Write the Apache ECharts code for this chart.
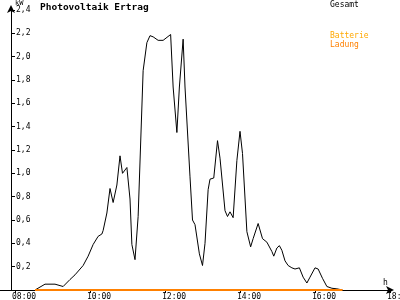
<!DOCTYPE html>
<html>
<head>
<meta charset="utf-8">
<script src="https://cdn.jsdelivr.net/npm/echarts@6/dist/echarts.min.js"></script>
<style>html,body{margin:0;padding:0;background:#fff}#c{width:400px;height:300px}</style>
</head>
<body>
<div id="c"></div>
<script>
const gesamtTimes = ['08:32','08:48','09:04','09:17','09:28','09:36','09:49','09:57','10:05','10:13','10:19','10:21','10:27','10:32','10:37','10:43','10:48','10:52','10:59','11:04','11:07','11:12','11:17','11:25','11:31','11:36','11:41','11:49','11:57','12:09','12:13','12:19','12:23','12:29','12:32','12:40','12:44','12:48','12:55','13:00','13:04','13:09','13:12','13:18','13:24','13:28','13:36','13:40','13:44','13:49','13:55','14:00','14:04','14:11','14:17','14:21','14:29','14:36','14:43','14:51','14:54','14:59','15:03','15:07','15:12','15:17','15:23','15:28','15:35','15:41','15:47','15:52','16:00','16:05','16:12','16:19','16:27','16:35','16:44'];
const gesamtValues = [0,0.05,0.05,0.03,0.09,0.13,0.21,0.29,0.39,0.46,0.48,0.51,0.66,0.87,0.75,0.90,1.15,1.00,1.05,0.78,0.39,0.26,0.63,1.88,2.12,2.18,2.17,2.14,2.14,2.19,1.74,1.35,1.74,2.15,1.74,0.97,0.60,0.56,0.31,0.21,0.40,0.86,0.95,0.96,1.28,1.13,0.68,0.63,0.67,0.62,1.11,1.36,1.17,0.50,0.37,0.44,0.57,0.44,0.41,0.33,0.29,0.36,0.38,0.34,0.25,0.21,0.19,0.18,0.19,0.11,0.06,0.11,0.19,0.18,0.10,0.03,0.015,0.01,0];
const ladungTimes = ['08:32','16:44'];
const ladungValues = [0,0];
const xTickHours = [8,10,12,14,16,18];

function toHours(s){const p=s.split(':');return +p[0]+(+p[1])/60;}
function pad(n){return (n<10?'0':'')+n;}
const mono = 'DejaVu Sans Mono';

const chart = echarts.init(document.getElementById('c'), null, {renderer:'canvas'});
chart.setOption({
  animation:false,
  backgroundColor:'#fff',
  title:[
    {text:'Photovoltaik Ertrag', left:40, top:3, padding:0, textStyle:{fontFamily:mono, fontWeight:'bold', fontSize:9.5, color:'#000'}},
    {text:'Gesamt', left:330, top:1, padding:0, textStyle:{fontFamily:mono, fontWeight:'normal', fontSize:8, color:'#000'}},
    {text:'Batterie', left:330, top:32, padding:0, textStyle:{fontFamily:mono, fontWeight:'normal', fontSize:8, color:'#ffa800'}},
    {text:'Ladung', left:330, top:40.5, padding:0, textStyle:{fontFamily:mono, fontWeight:'normal', fontSize:8, color:'#ff8000'}},
    {text:'kW', left:15, top:0, padding:0, textStyle:{fontFamily:mono, fontWeight:'normal', fontSize:7, color:'#000'}},
    {text:'h', left:383, top:279, padding:0, textStyle:{fontFamily:mono, fontWeight:'normal', fontSize:8, color:'#000'}}
  ],
  grid:{left:0, right:10, top:10, bottom:10, containLabel:false, outerBoundsMode:'none'},
  xAxis:{
    type:'value', min:7.6, max:18,
    axisLine:{lineStyle:{color:'#000', width:1}, symbol:['none','arrow'], symbolSize:[6,8], symbolOffset:[0,4]},
    axisTick:{customValues:xTickHours, length:3, lineStyle:{color:'#000'}},
    axisLabel:{customValues:xTickHours, margin:3, align:'left', padding:[0,0,0,-3], fontFamily:mono, fontSize:8, color:'#000',
      formatter:function(v){const h=Math.floor(v+1e-6);const m=Math.round((v-h)*60);return pad(h)+':'+pad(m);}},
    splitLine:{show:false}
  },
  yAxis:{
    type:'value', min:0, max:2.4, interval:0.2, offset:-11,
    axisLine:{show:true, onZero:false, lineStyle:{color:'#000', width:1}, symbol:['none','arrow'], symbolSize:[6,8], symbolOffset:[0,5]},
    axisTick:{show:true, inside:true, length:4, lineStyle:{color:'#000'}},
    axisLabel:{inside:true, margin:5, fontFamily:mono, fontSize:8, color:'#000',
      formatter:function(v){return v===0?'':v.toFixed(1).replace('.',',');}},
    splitLine:{show:false}
  },
  series:[
    {name:'Gesamt', type:'line', showSymbol:false, symbol:'none', z:3,
      lineStyle:{color:'#000', width:1}, itemStyle:{color:'#000'},
      data:gesamtTimes.map((t,i)=>[toHours(t), gesamtValues[i]])},
    {name:'Batterie Ladung', type:'line', showSymbol:false, symbol:'none', z:4,
      lineStyle:{color:'#ff8000', width:2}, itemStyle:{color:'#ff8000'},
      data:ladungTimes.map((t,i)=>[toHours(t), ladungValues[i]])}
  ]
});
</script>
</body>
</html>
